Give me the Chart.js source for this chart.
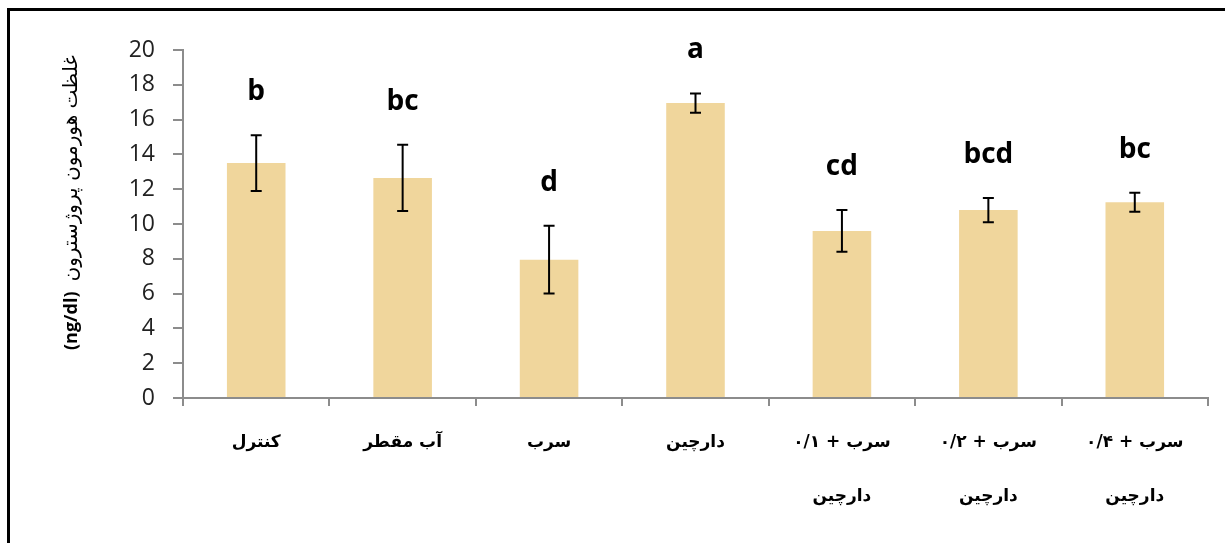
<!DOCTYPE html>
<html>
<head>
<meta charset="utf-8">
<script src="https://cdn.jsdelivr.net/npm/chart.js@4.4.1/dist/chart.umd.min.js"></script>
<style>
    html, body { margin: 0; padding: 0; background: #fff; }
    #wrap { position: relative; width: 1225px; height: 543px; }
    #frame { position: absolute; left: 7px; top: 8px; right: 0; bottom: 0; border-top: 3px solid #000; border-left: 3px solid #000; pointer-events: none; }
    canvas { display: block; }
</style>
</head>
<body>
<div id="wrap">
    <canvas id="chart" width="1225" height="543"></canvas>
    <div id="frame"></div>
</div>
<script>
// گروه‌ها و داده‌ها
const categories = [
    ['کنترل'],
    ['آب مقطر'],
    ['سرب'],
    ['دارچین'],
    ['سرب + ۰/۱', 'دارچین'],
    ['سرب + ۰/۲', 'دارچین'],
    ['سرب + ۰/۴', 'دارچین']
];
const progesterone = [13.5, 12.65, 7.95, 16.95, 9.6, 10.8, 11.25];
const errors = [1.6, 1.9, 1.95, 0.55, 1.2, 0.7, 0.55];
const letters = ['b', 'bc', 'd', 'a', 'cd', 'bcd', 'bc'];
const yTitle = 'غلظت هورمون پروژسترون';
const yUnit = '(ng/dl)';

const axisGray = '#8c8c8c';

// error bars, significance letters and y title
const decorPlugin = {
    id: 'decor',
    afterDatasetsDraw(chart) {
        const { ctx, scales: { y } } = chart;
        const meta = chart.getDatasetMeta(0);
        ctx.save();
        ctx.strokeStyle = '#000';
        ctx.lineWidth = 2;
        meta.data.forEach((bar, i) => {
            const cx = bar.x;
            const top = y.getPixelForValue(progesterone[i] + errors[i]);
            const bot = y.getPixelForValue(progesterone[i] - errors[i]);
            ctx.beginPath();
            ctx.moveTo(cx, top); ctx.lineTo(cx, bot);
            ctx.moveTo(cx - 5.5, top); ctx.lineTo(cx + 5.5, top);
            ctx.moveTo(cx - 5.5, bot); ctx.lineTo(cx + 5.5, bot);
            ctx.stroke();

            ctx.font = 'bold 28px "Open Sans"';
            ctx.fillStyle = '#000';
            ctx.textAlign = 'center';
            ctx.textBaseline = 'middle';
            ctx.fillText(letters[i], cx, top - 43);
        });

        // rotated axis title
        ctx.translate(72, 350);
        ctx.rotate(-Math.PI / 2);
        ctx.textAlign = 'left';
        ctx.textBaseline = 'middle';
        ctx.fillStyle = '#000';
        ctx.font = 'bold 18px "Open Sans"';
        ctx.fillText(yUnit, 0, 0);
        const w = ctx.measureText(yUnit).width;
        ctx.font = '20px "DejaVu Sans"';
        ctx.fillText(yTitle, w + 10, 0);
        ctx.restore();
    }
};

new Chart(document.getElementById('chart').getContext('2d'), {
    type: 'bar',
    data: {
        labels: categories,
        datasets: [{
            data: progesterone,
            backgroundColor: '#f0d69c',
            borderWidth: 0,
            barPercentage: 0.4,
            categoryPercentage: 1
        }]
    },
    options: {
        responsive: false,
        animation: false,
        layout: { padding: { top: 50, right: 17, left: 0, bottom: 0 } },
        plugins: { legend: { display: false }, tooltip: { enabled: false } },
        scales: {
            x: {
                afterFit: s => { s.height = 145; },
                border: { color: axisGray, width: 2 },
                grid: { drawOnChartArea: false, tickLength: 8, color: axisGray, lineWidth: 2 },
                ticks: {
                    color: '#000',
                    padding: 10,
                    maxRotation: 0,
                    autoSkip: false,
                    font: { family: 'DejaVu Sans', size: 17, weight: 'bold', lineHeight: '54px' }
                }
            },
            y: {
                min: 0,
                max: 20,
                afterFit: s => { s.width = 183; },
                border: { color: axisGray, width: 2 },
                grid: { drawOnChartArea: false, tickLength: 10, color: axisGray, lineWidth: 2 },
                ticks: {
                    stepSize: 2,
                    color: '#222',
                    padding: 18,
                    font: { family: 'Open Sans', size: 23 }
                }
            }
        }
    },
    plugins: [decorPlugin]
});
</script>
</body>
</html>
